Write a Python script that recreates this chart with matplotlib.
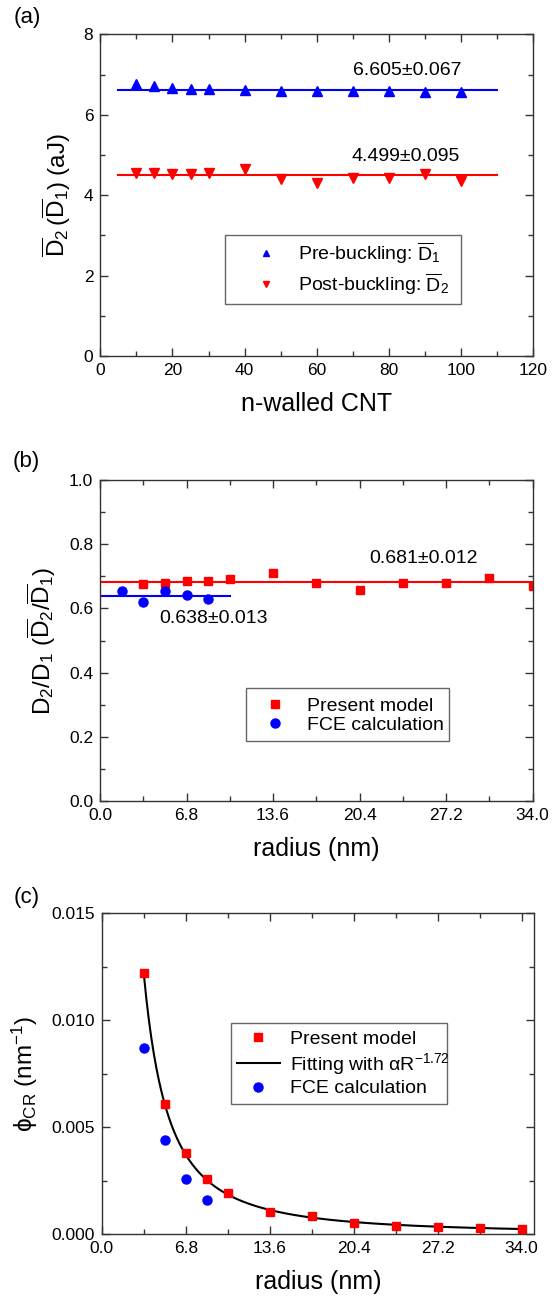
import numpy as np
import matplotlib
matplotlib.use("Agg")
import matplotlib.pyplot as plt
from matplotlib.ticker import MultipleLocator, FormatStrFormatter
from matplotlib.patches import Rectangle

plt.rcParams['font.family'] = ['Liberation Sans', 'DejaVu Sans']
plt.rcParams['mathtext.fontset'] = 'custom'
plt.rcParams['mathtext.rm'] = 'Liberation Sans'
plt.rcParams['mathtext.it'] = 'Liberation Sans:italic'
plt.rcParams['mathtext.fallback'] = 'stixsans'

# ---- Panel (a) data ----
walls = [10, 15, 20, 25, 30, 40, 50, 60, 70, 80, 90, 100]
pre_D1 = [6.77, 6.71, 6.66, 6.65, 6.64, 6.61, 6.58, 6.59, 6.58, 6.58, 6.57, 6.56]
post_D2 = [4.54, 4.54, 4.53, 4.52, 4.56, 4.64, 4.41, 4.30, 4.42, 4.42, 4.52, 4.36]
mean_D1 = 6.605
mean_D2 = 4.499
fit_range_a = [5, 110]

# ---- Panel (b) data ----
radius_model = [3.4, 5.1, 6.8, 8.5, 10.2, 13.6, 17.0, 20.4, 23.8, 27.2, 30.6, 34.0]
ratio_model = [0.676, 0.680, 0.684, 0.684, 0.693, 0.710, 0.679, 0.657, 0.679, 0.679, 0.694, 0.671]
radius_fce_b = [1.7, 3.4, 5.1, 6.8, 8.5]
ratio_fce = [0.653, 0.621, 0.653, 0.641, 0.630]
mean_model = 0.681
mean_fce = 0.638
range_model = [0, 34]
range_fce = [0, 10.2]

# ---- Panel (c) data ----
phi_model = [0.01221, 0.00607, 0.00380, 0.00259, 0.00190, 0.00103, 0.00084,
             0.00050, 0.00037, 0.00033, 0.00026, 0.00023]
radius_fce_c = [3.4, 5.1, 6.8, 8.5]
phi_fce = [0.00868, 0.00438, 0.00257, 0.00157]
alpha = 0.1002
exponent = -1.72

W, H = 554, 1298
fig = plt.figure(figsize=(W / 100, H / 100), dpi=100)

TICK_FS = 12.5
XLABEL_FS = 18
YLABEL_FS = 17.5
ANN_FS = 14
LEG_FS = 14
PANEL_FS = 16
HANDLE_LEN = 2.25


def style_axes(ax):
    for s in ax.spines.values():
        s.set_linewidth(1.0)
        s.set_color('#333333')
    ax.tick_params(which='both', direction='in', top=True, right=True,
                   labelsize=TICK_FS, width=1.0, color='#333333')
    ax.tick_params(which='major', length=6, pad=5)
    ax.tick_params(which='minor', length=3.5)


def make_legend(ax, handle_start, center_y, box, spacing, markerscale=1.0):
    leg = ax.legend(loc='center left', bbox_to_anchor=(handle_start, center_y),
                    fontsize=LEG_FS, frameon=False, borderpad=0, borderaxespad=0,
                    handletextpad=0.5, labelspacing=spacing,
                    handlelength=HANDLE_LEN, markerscale=markerscale)
    leg.set_zorder(6)
    x0, y0, x1, y1 = box
    ax.add_patch(Rectangle((x0, y0), x1 - x0, y1 - y0, transform=ax.transAxes,
                           facecolor='white', edgecolor='#666666', lw=1.0,
                           zorder=5))
    return leg


def handle_start_from_marker(ax, marker_x):
    ax_w_px = ax.get_position().width * W
    half = HANDLE_LEN * LEG_FS * 100 / 72 / 2
    return marker_x - half / ax_w_px


# ---------------- (a) ----------------
axa = fig.add_axes([100.3 / W, 1 - 356 / H, 433 / W, 321.7 / H])
axa.plot(walls, pre_D1, linestyle='none', marker='^', color='#0000ff', ms=6.5,
         label=r'Pre-buckling: $\overline{\mathrm{D}}_1$')
axa.plot(walls, post_D2, linestyle='none', marker='v', color='#ff0000', ms=6.5,
         label=r'Post-buckling: $\overline{\mathrm{D}}_2$')
axa.plot(fit_range_a, [mean_D1, mean_D1], color='#0000ff', lw=1.5)
axa.plot(fit_range_a, [mean_D2, mean_D2], color='#ff0000', lw=1.5)
axa.text(85.2, 7.1, '6.605±0.067', fontsize=ANN_FS, ha='center', va='center')
axa.text(84.6, 4.97, '4.499±0.095', fontsize=ANN_FS, ha='center', va='center')
axa.set_xlim(0, 120)
axa.set_ylim(0, 8)
axa.xaxis.set_major_locator(MultipleLocator(20))
axa.xaxis.set_minor_locator(MultipleLocator(10))
axa.yaxis.set_major_locator(MultipleLocator(2))
axa.yaxis.set_minor_locator(MultipleLocator(1))
style_axes(axa)
axa.set_xlabel('n-walled CNT', fontsize=XLABEL_FS, labelpad=10)
axa.set_ylabel(r'$\overline{\mathrm{D}}_2\,(\overline{\mathrm{D}}_1)$ (aJ)',
               fontsize=YLABEL_FS, labelpad=8)
make_legend(axa, handle_start_from_marker(axa, 0.383), 0.272,
            (0.289, 0.161, 0.834, 0.376), 0.3, markerscale=0.75)
fig.text(14 / W, 1 - 17 / H, '(a)', fontsize=PANEL_FS, ha='left', va='center')

# ---------------- (b) ----------------
axb = fig.add_axes([100 / W, 1 - 801 / H, 432.5 / W, 321 / H])
axb.plot(radius_model, ratio_model, linestyle='none', marker='s', color='#ff0000',
         ms=6, label='Present model')
axb.plot(radius_fce_b, ratio_fce, linestyle='none', marker='o', color='#0000ff',
         ms=6.5, label='FCE calculation')
axb.plot(range_model, [mean_model, mean_model], color='#ff0000', lw=1.5)
axb.plot(range_fce, [mean_fce, mean_fce], color='#0000ff', lw=1.5)
axb.text(25.4, 0.756, '0.681±0.012', fontsize=ANN_FS, ha='center', va='center')
axb.text(8.9, 0.567, '0.638±0.013', fontsize=ANN_FS, ha='center', va='center')
axb.set_xlim(0, 34)
axb.set_ylim(0, 1.0)
axb.xaxis.set_major_locator(MultipleLocator(6.8))
axb.xaxis.set_minor_locator(MultipleLocator(3.4))
axb.xaxis.set_major_formatter(FormatStrFormatter('%.1f'))
axb.yaxis.set_major_locator(MultipleLocator(0.2))
axb.yaxis.set_minor_locator(MultipleLocator(0.1))
axb.yaxis.set_major_formatter(FormatStrFormatter('%.1f'))
style_axes(axb)
axb.set_xlabel('radius (nm)', fontsize=XLABEL_FS, labelpad=10)
axb.set_ylabel(r'D$_2$/D$_1$ ($\overline{\mathrm{D}}_2$/$\overline{\mathrm{D}}_1$)',
               fontsize=YLABEL_FS, labelpad=8)
make_legend(axb, handle_start_from_marker(axb, 0.4046), 0.266,
            (0.337, 0.187, 0.808, 0.352), 0.1)
fig.text(13 / W, 1 - 462 / H, '(b)', fontsize=PANEL_FS, ha='left', va='center')

# ---------------- (c) ----------------
axc = fig.add_axes([101.7 / W, 1 - 1234 / H, 432.3 / W, 321 / H])
r_fit = np.linspace(radius_model[0], radius_model[-1], 300)
axc.plot(radius_model, phi_model, linestyle='none', marker='s', color='#ff0000',
         ms=6, label='Present model', zorder=3)
axc.plot(r_fit, alpha * r_fit ** exponent, color='black', lw=1.5,
         label=r'Fitting with $\mathrm{\alpha}$R$^{-1.72}$', zorder=2)
axc.plot(radius_fce_c, phi_fce, linestyle='none', marker='o', color='#0000ff',
         ms=6.5, label='FCE calculation', zorder=3)
axc.set_xlim(0, 35)
axc.set_ylim(0, 0.015)
axc.xaxis.set_major_locator(MultipleLocator(6.8))
axc.xaxis.set_minor_locator(MultipleLocator(3.4))
axc.xaxis.set_major_formatter(FormatStrFormatter('%.1f'))
axc.yaxis.set_major_locator(MultipleLocator(0.005))
axc.yaxis.set_minor_locator(MultipleLocator(0.0025))
axc.yaxis.set_major_formatter(FormatStrFormatter('%.3f'))
style_axes(axc)
axc.set_xlabel('radius (nm)', fontsize=XLABEL_FS, labelpad=10)
axc.set_ylabel(r'$\mathrm{\phi}_{\mathrm{CR}}$ (nm$^{-1}$)', fontsize=YLABEL_FS, labelpad=8)
make_legend(axc, 0.312, 0.53, (0.299, 0.404, 0.799, 0.656), 0.15)
fig.text(14 / W, 1 - 897 / H, '(c)', fontsize=PANEL_FS, ha='left', va='center')

fig.savefig('out.png', dpi=100)
